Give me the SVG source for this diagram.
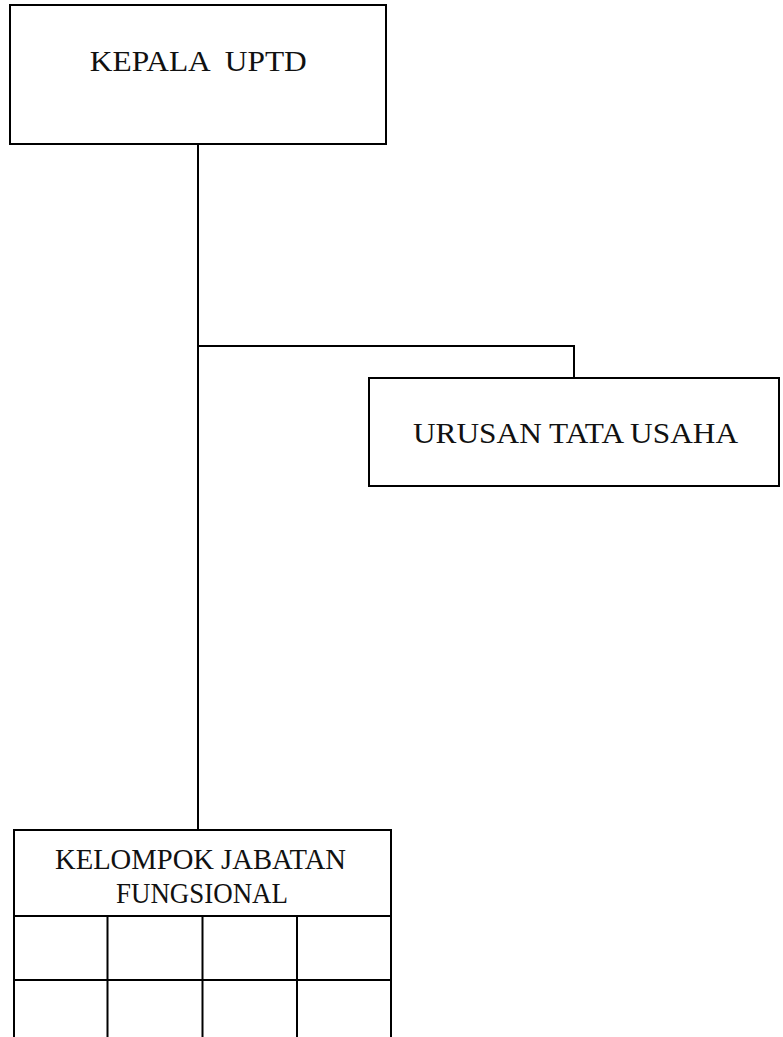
<svg xmlns="http://www.w3.org/2000/svg" width="783" height="1037" viewBox="0 0 783 1037">
<style>
.box{fill:#fff;stroke:#000;stroke-width:2}
.ln{fill:none;stroke:#000;stroke-width:2}
.t{font-family:"Liberation Serif","Times New Roman",serif;fill:#111;text-anchor:middle;font-size:30px}
</style>
<rect width="783" height="1037" fill="#fff"/>
<g id="connectors">
<path class="ln" d="M198 144 V830"/>
<path class="ln" d="M198 346 H574 V378"/>
</g>
<g id="kepala">
<rect class="box" x="10" y="5" width="376" height="139"/>
<text class="t" x="198.3" y="71" textLength="217" lengthAdjust="spacingAndGlyphs" xml:space="preserve">KEPALA  UPTD</text>
</g>
<g id="urusan">
<rect class="box" x="369" y="378" width="410" height="108"/>
<text class="t" x="575.5" y="443" textLength="325" lengthAdjust="spacingAndGlyphs">URUSAN TATA USAHA</text>
</g>
<g id="kelompok">
<path class="box" d="M14 1040 V830 H391 V1040"/>
<path class="ln" d="M14 916 H391 M14 980 H391 M107.5 916 V1040 M202.5 916 V1040 M297 916 V1040"/>
<text class="t" x="200.5" y="869" font-size="29" textLength="291" lengthAdjust="spacingAndGlyphs">KELOMPOK JABATAN</text>
<text class="t" x="202" y="903" font-size="29" textLength="172" lengthAdjust="spacingAndGlyphs">FUNGSIONAL</text>
</g>
</svg>
